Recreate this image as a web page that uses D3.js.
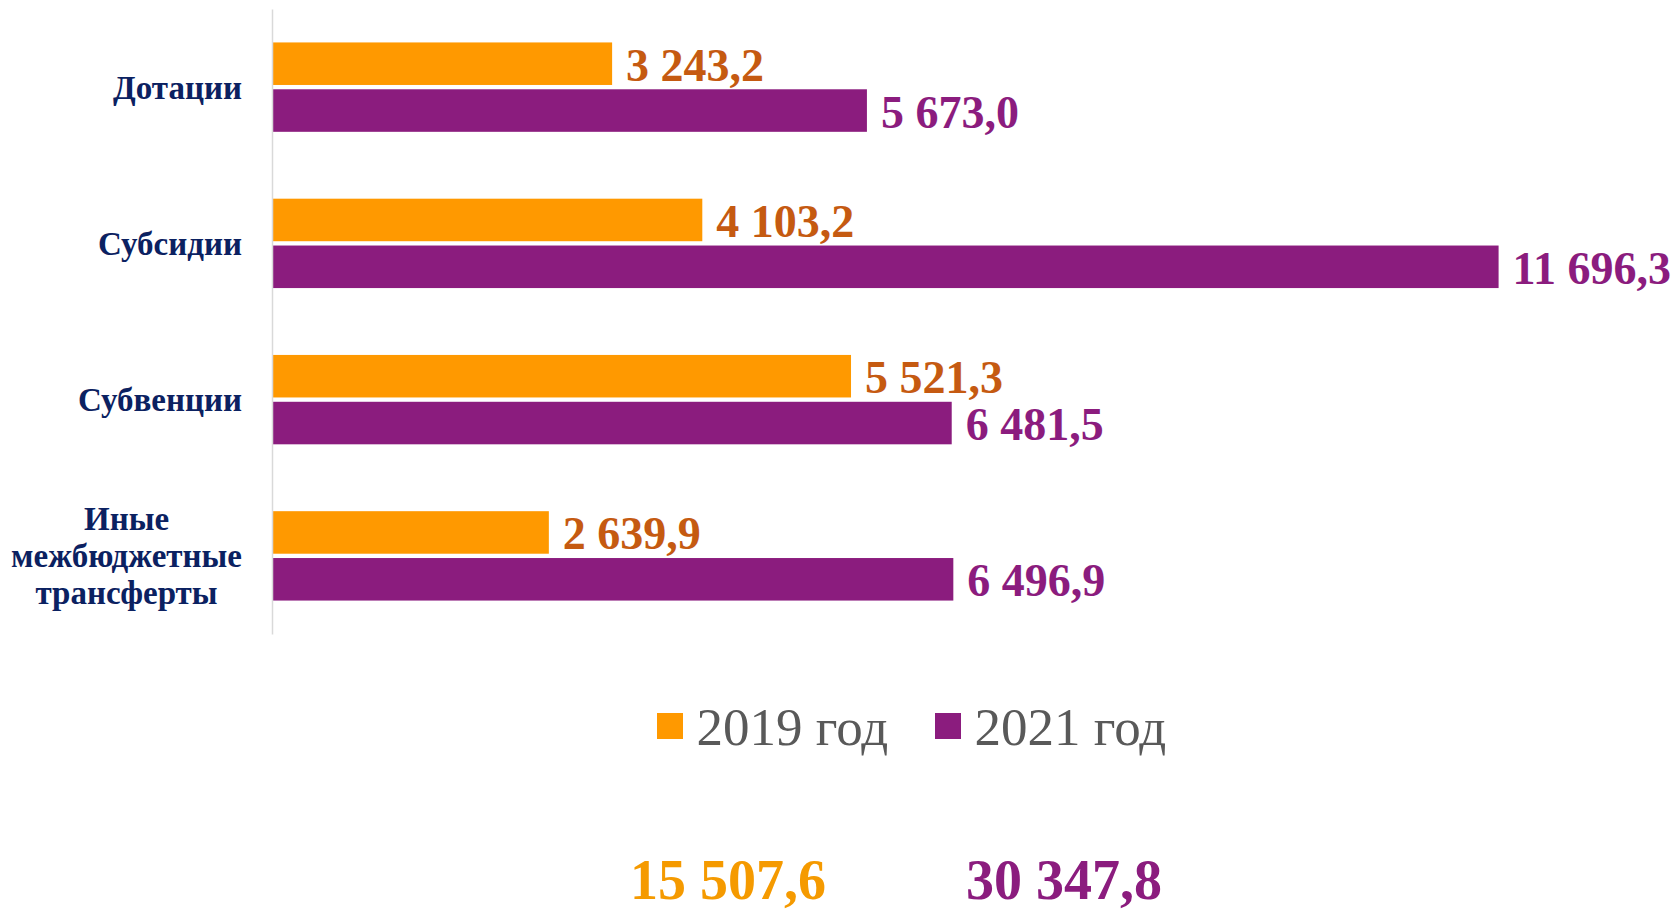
<!DOCTYPE html>
<html>
<head>
<meta charset="utf-8">
<script src="https://cdn.jsdelivr.net/npm/d3@7"></script>
<style>
  html, body { margin: 0; padding: 0; background: #fff; }
  svg { display: block; font-family: "Liberation Serif", "Times New Roman", serif; }
</style>
</head>
<body>
<div id="chart"></div>
<script>
const WIDTH = 1677;
const HEIGHT = 910;

const categories = ['Дотации', 'Субсидии', 'Субвенции', 'Иные межбюджетные трансферты'];
const seriesNames = ['2019 год', '2021 год'];
const values2019 = [3243.2, 4103.2, 5521.3, 2639.9];
const values2021 = [5673.0, 11696.3, 6481.5, 6496.9];
const totals = [15507.6, 30347.8];

const barColors = ['#ff9900', '#8b1c7e'];
const labelColors = ['#c55a11', '#8b1c7e'];
const totalColors = ['#f59a00', '#8b1c7e'];

const ru = d3.formatLocale({ decimal: ',', thousands: ' ', grouping: [3], currency: ['', ''] });
const fmt = ru.format(',.1f');

const rows = categories.map((c, i) => ({ cat: c, vals: [values2019[i], values2021[i]] }));

const svg = d3.select('#chart')
    .append('svg')
    .attr('width', WIDTH)
    .attr('height', HEIGHT);

const x = d3.scaleLinear()
    .domain([0, 12000])
    .range([272, 272 + 12000 * 0.10487]);

const y0 = d3.scaleBand()
    .domain(categories)
    .range([9, 634])
    .paddingInner(0.428)
    .paddingOuter(0.214);

const y1 = d3.scaleBand()
    .domain([0, 1])
    .range([0, y0.bandwidth()])
    .paddingInner(0.092);

// bars
const groups = svg.selectAll('g.cat')
    .data(rows)
    .enter()
    .append('g')
    .attr('class', 'cat')
    .attr('transform', d => `translate(0,${y0(d.cat)})`);

groups.selectAll('rect')
    .data(d => d.vals)
    .enter()
    .append('rect')
    .attr('x', x(0))
    .attr('y', (d, i) => y1(i))
    .attr('width', d => x(d) - x(0))
    .attr('height', y1.bandwidth())
    .attr('fill', (d, i) => barColors[i]);

groups.selectAll('text')
    .data(d => d.vals)
    .enter()
    .append('text')
    .text(d => fmt(d))
    .attr('x', d => x(d) + 14)
    .attr('y', (d, i) => y1(i) + y1.bandwidth() / 2 + 17)
    .attr('font-size', 46)
    .attr('font-weight', 'bold')
    .attr('fill', (d, i) => labelColors[i]);

// category axis
const axis = svg.append('g')
    .attr('transform', `translate(${x(0)},0)`)
    .call(d3.axisLeft(y0).tickSize(0).tickPadding(30));

axis.select('.domain')
    .attr('stroke', '#d9d9d9')
    .attr('stroke-width', 1.5);

axis.selectAll('.tick text')
    .attr('font-family', '"Liberation Serif", "Times New Roman", serif')
    .attr('font-size', 33)
    .attr('font-weight', 'bold')
    .attr('fill', '#0b2161')
    .each(function (d) {
        const words = d.split(' ');
        if (words.length < 2) return;
        const t = d3.select(this).text(null).attr('dy', null).attr('text-anchor', 'middle');
        words.forEach((w, i) => {
            t.append('tspan')
                .attr('x', 0)
                .attr('dy', i === 0 ? ((-(words.length - 1) / 2) * 1.13 + 0.34) + 'em' : '1.13em')
                .text(w);
        });
        let maxW = 0;
        t.selectAll('tspan').each(function () { maxW = Math.max(maxW, this.getComputedTextLength()); });
        t.selectAll('tspan').attr('x', -30 - maxW / 2);
    });

axis.selectAll('.tick text')
    .filter(d => d.split(' ').length < 2)
    .attr('dy', '0.35em');

// legend
const legend = svg.append('g').attr('transform', 'translate(657,0)');
const legendX = [0, 278];
seriesNames.forEach((name, i) => {
    legend.append('rect')
        .attr('x', legendX[i])
        .attr('y', 713)
        .attr('width', 26)
        .attr('height', 26)
        .attr('fill', barColors[i]);
    legend.append('text')
        .text(name)
        .attr('x', legendX[i] + 39.5)
        .attr('y', 745)
        .attr('font-size', 53)
        .attr('fill', '#595959');
});

// totals
const totalX = [630, 966];
svg.selectAll('text.total')
    .data(totals)
    .enter()
    .append('text')
    .attr('class', 'total')
    .text(d => fmt(d))
    .attr('x', (d, i) => totalX[i])
    .attr('y', 899)
    .attr('font-size', 56)
    .attr('font-weight', 'bold')
    .attr('fill', (d, i) => totalColors[i]);
</script>
</body>
</html>
